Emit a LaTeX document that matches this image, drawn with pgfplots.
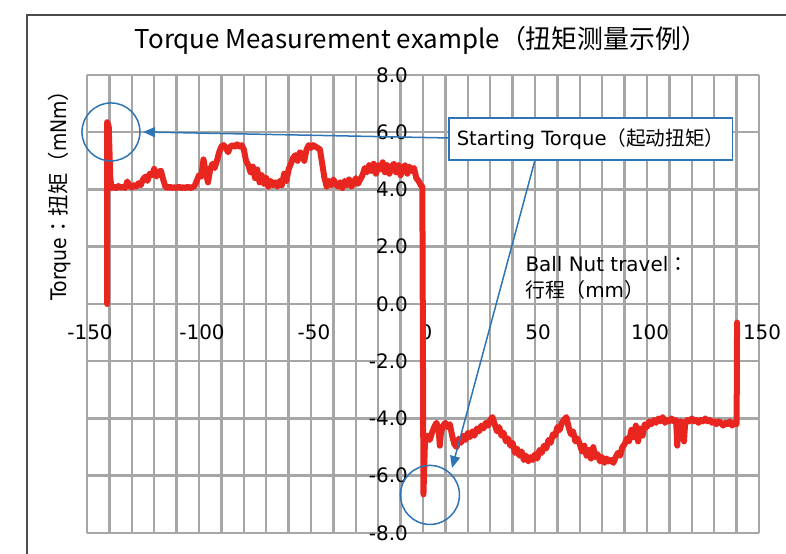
\documentclass[border=0pt]{standalone}
\usepackage{pgfplots}
\pgfplotsset{compat=1.18}
\usepackage{pgfplotstable}
\usepackage{fontspec}
\setmainfont{DejaVu Sans}
\newfontfamily\cjk{Noto Sans CJK SC}
\newfontfamily\cjkjp{Noto Sans CJK JP}
\newfontfamily\narrow[FakeStretch=0.88]{DejaVu Sans}
\usetikzlibrary{arrows.meta}
\definecolor{gridgray}{HTML}{A6A6A6}
\definecolor{datared}{HTML}{E8251F}
\definecolor{annblue}{HTML}{2E75B6}

\pgfplotstableread{
x y
-141 0
-141 6.35
-140.3 6.2
-139.6 4.4
-139 4.05
-138 4.1
-137 4.05
-136 4.12
-135 4.06
-134 4.1
-133 4.05
-132 4.28
-131 4.12
-130 4.07
-129 4.15
-128 4.1
-127 4.22
-126 4.15
-125 4.35
-124 4.45
-123 4.3
-122 4.55
-121 4.5
-120 4.72
-119 4.45
-118 4.62
-117 4.65
-116 4.35
-115 4.1
-114 4.05
-113 4.1
-112 4.05
-111 4.08
-110 4.05
-109 4.1
-108 4.05
-107 4.08
-106 4.05
-105 4.1
-104 4.05
-103 4.08
-102 4.12
-101 4.3
-100 4.5
-99 4.45
-98 5.05
-97 4.6
-96 4.25
-95 4.7
-94 4.9
-93 4.75
-92 5.0
-91 5.3
-90 5.5
-89 5.55
-88 5.45
-87 5.3
-86 5.5
-85 5.55
-84 5.5
-83 5.58
-82 5.5
-81 5.55
-80 5.4
-79 5.0
-78 4.85
-77 4.6
-76 4.8
-75 4.4
-74 4.7
-73 4.25
-72 4.5
-71 4.2
-70 4.4
-69 4.1
-68 4.3
-67 4.15
-66 4.25
-65 4.1
-64 4.3
-63 4.15
-62 4.55
-61 4.3
-60 4.7
-59 4.9
-58 5.1
-57 5.2
-56 5.0
-55 5.3
-54 5.25
-53 5.0
-52 5.4
-51 5.55
-50 5.45
-49 5.55
-48 5.5
-47 5.45
-46 5.4
-45 4.9
-44 4.4
-43 4.1
-42 4.3
-41 4.15
-40 4.35
-39 4.2
-38 4.1
-37 4.25
-36 4.05
-35 4.3
-34 4.15
-33 4.35
-32 4.1
-31 4.2
-30 4.4
-29 4.2
-28 4.35
-27 4.5
-26 4.75
-25 4.6
-24 4.85
-23 4.65
-22 4.9
-21 4.55
-20 4.85
-19 4.7
-18 4.95
-17 4.6
-16 4.85
-15 4.55
-14 4.8
-13 4.9
-12 4.6
-11 4.85
-10 4.5
-9 4.75
-8 4.85
-7 4.55
-6 4.8
-5 4.65
-4 4.75
-3 4.4
-2 4.3
-1 4.15
-0.3 4.1
0.2 -6.65
0.8 -5.0
1 -4.75
2 -4.6
3 -4.75
4 -4.5
5 -4.3
6 -4.15
7 -4.4
7.5 -4.95
8 -4.5
9 -4.25
10 -4.15
11 -4.3
12 -4.2
13 -4.6
14 -4.9
15 -5.0
16 -4.7
17 -4.85
18 -4.6
19 -4.75
20 -4.5
21 -4.65
22 -4.45
23 -4.6
24 -4.35
25 -4.45
26 -4.25
27 -4.35
28 -4.15
29 -4.25
30 -4.05
31 -3.95
32 -4.2
33 -4.45
34 -4.3
35 -4.6
36 -4.5
37 -4.8
38 -4.7
39 -4.95
40 -4.85
41 -5.2
42 -5.05
43 -5.3
44 -5.15
45 -5.45
46 -5.3
47 -5.5
48 -5.35
49 -5.45
50 -5.25
51 -5.4
52 -5.1
53 -5.2
54 -4.95
55 -5.05
56 -4.75
57 -4.85
58 -4.55
59 -4.6
60 -4.3
61 -4.4
62 -4.15
63 -4.05
64 -3.95
65 -4.3
66 -4.55
67 -4.45
68 -4.8
69 -4.7
70 -4.9
71 -5.15
72 -4.95
73 -5.3
74 -5.1
75 -5.4
76 -5.0
77 -5.35
78 -5.25
79 -5.5
80 -5.35
81 -5.55
82 -5.4
83 -5.5
84 -5.45
85 -5.55
86 -5.35
87 -5.2
88 -5.3
89 -5.0
90 -4.9
91 -4.7
92 -4.8
93 -4.4
94 -4.65
95 -4.25
96 -4.8
97 -4.35
98 -4.6
99 -4.2
100 -4.3
101 -4.1
102 -4.2
103 -4.05
104 -4.15
105 -4.0
106 -4.1
107 -3.95
108 -4.15
109 -4.05
110 -4.1
111 -4.0
112 -4.1
113 -4.05
113.5 -4.95
114 -4.2
115 -4.1
116 -4.15
116.5 -4.8
117 -4.2
118 -4.05
119 -4.1
120 -4.0
121 -4.1
122 -4.05
123 -4.15
124 -4.05
125 -4.1
126 -4.0
127 -4.1
128 -4.05
129 -4.15
130 -4.1
131 -4.2
132 -4.1
133 -4.15
134 -4.25
135 -4.15
136 -4.2
137 -4.1
138 -4.25
139 -4.15
140 -4.2
140.2 -0.65
}\torque

\begin{document}
\begin{tikzpicture}[x=1bp,y=1bp]
\useasboundingbox (0,0) rectangle (786,554);
\draw[black!70, line width=1.2bp] (27,-5) -- (27,539) -- (800,539);
\begin{axis}[
  at={(87bp,21bp)}, anchor=south west,
  scale only axis, width=672bp, height=458bp,
  xmin=-150, xmax=150, ymin=-8, ymax=8,
  enlargelimits=false,
  axis lines=middle, axis line style={draw=none},
  hide obscured x ticks=false, hide obscured y ticks=false,
  xtick={-150,-100,-50,0,50,100,150},
  xticklabels={-150,-100,-50,0,50,100,150},
  minor xtick={-140,-130,...,140},
  ytick={-8,-6,-4,-2,0,2,4,6,8},
  yticklabels={-8.0,-6.0,-4.0,-2.0,0.0,2.0,4.0,6.0,8.0},
  major tick length=0pt, minor tick length=0pt,
  grid=both,
  major grid style={gridgray, line width=2.5bp},
  minor grid style={gridgray, line width=2.5bp},
  tick label style={font=\fontsize{20}{24}\selectfont, text=black, inner sep=0pt},
  xticklabel style={anchor=north, yshift=-21bp, xshift=3bp},
  yticklabel style={anchor=east, xshift=-15bp},
  clip=false,
]
\addplot[datared, line width=6bp, line join=round, line cap=round] table[x=x,y=y]{\torque};
\draw[annblue, line width=1.5bp] (axis cs:-139.3,6.01) circle[radius=29bp];
\draw[annblue, line width=1.5bp] (axis cs:3.1,-6.67) circle[radius=29.5bp];
\draw[annblue, line width=1.5bp, -{Triangle[length=12bp,width=10bp]}] (axis cs:11.16,5.80) -- (axis cs:-125,6.01);
\draw[annblue, line width=1.5bp, -{Triangle[length=12bp,width=10bp]}] (axis cs:50.0,5.03) -- (axis cs:12.95,-5.73);
\node[draw=annblue, line width=1.5bp, fill=white, anchor=west, inner xsep=8bp, minimum height=42bp, font=\fontsize{19.7}{23}\selectfont] at (axis cs:11.16,5.765) {Starting Torque{\cjk（起动扭矩）}};
\end{axis}
\node[font=\fontsize{26}{30}\selectfont\cjk] at (421,514) {Torque Measurement example（扭矩测量示例）};
\node[rotate=90, font=\fontsize{21.5}{25}\selectfont] at (60,364) {{\narrow Torque}{\cjkjp ：}{\cjk 扭矩（}{\narrow mNm}{\cjk ）}};
\node[anchor=west, align=left, font=\fontsize{20}{26}\selectfont] at (522,276) {Ball Nut travel{\cjkjp ：}\\ {\cjk 行程（}mm{\cjk ）}};
\end{tikzpicture}
\end{document}
